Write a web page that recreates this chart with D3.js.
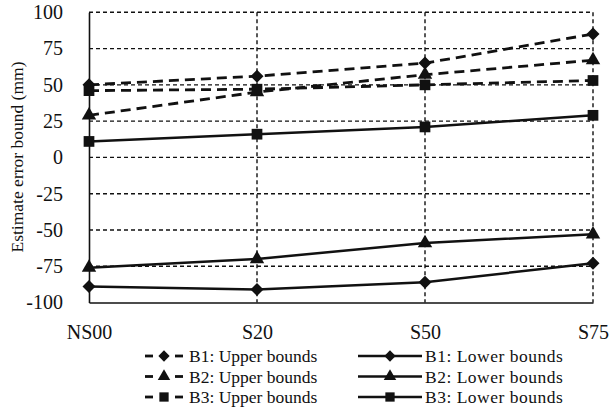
<!DOCTYPE html>
<html><head><meta charset="utf-8">
<script src="https://cdn.jsdelivr.net/npm/d3@7"></script>
<style>body{margin:0;background:#fff}svg{display:block}text{font-family:"Liberation Serif","Times New Roman",Times,serif !important;fill:#111}</style>
</head><body><svg id="c" width="611" height="419"></svg>
<script>
const categories = ["NS00","S20","S50","S75"];
const yTicks = [-100,-75,-50,-25,0,25,50,75,100];
const b1Upper = [50,56,65,85];
const b2Upper = [29,45,57,67];
const b3Upper = [46,47,50,53];
const b1Lower = [-89,-91,-86,-73];
const b2Lower = [-76,-70,-59,-53];
const b3Lower = [11,16,21,29];
const seriesNames = ["B1: Upper bounds","B2: Upper bounds","B3: Upper bounds","B1: Lower bounds","B2: Lower bounds","B3: Lower bounds"];

const diamond = {draw(ctx,size){const r=Math.sqrt(size/2);ctx.moveTo(0,-r);ctx.lineTo(r,0);ctx.lineTo(0,r);ctx.lineTo(-r,0);ctx.closePath();}};
const series = [
  {name:seriesNames[0], values:b1Upper, dashed:true, sym:diamond},
  {name:seriesNames[1], values:b2Upper, dashed:true, sym:d3.symbolTriangle},
  {name:seriesNames[2], values:b3Upper, dashed:true, sym:d3.symbolSquare},
  {name:seriesNames[3], values:b1Lower, dashed:false, sym:diamond},
  {name:seriesNames[4], values:b2Lower, dashed:false, sym:d3.symbolTriangle},
  {name:seriesNames[5], values:b3Lower, dashed:false, sym:d3.symbolSquare}
];
const symSize = s => s===diamond ? 85 : s===d3.symbolTriangle ? 90 : 115;

const svg = d3.select("#c");
const x = d3.scalePoint().domain(categories).range([89,593]);
const y = d3.scaleLinear().domain([-100,100]).range([302.5,12.3]);

// grid
const g = svg.append("g");
g.selectAll(".hg").data(yTicks.filter(t=>t>-100)).join("line")
  .attr("x1",89).attr("x2",593).attr("y1",d=>y(d)).attr("y2",d=>y(d))
  .attr("stroke","#111").attr("stroke-width",1.4).attr("stroke-dasharray","4,3");
g.selectAll(".vg").data(categories.slice(1)).join("line")
  .attr("x1",d=>x(d)).attr("x2",d=>x(d)).attr("y1",y(100)).attr("y2",y(-100))
  .attr("stroke","#111").attr("stroke-width",1.4).attr("stroke-dasharray","4,3");

// axes
const yAxis = d3.axisLeft(y).tickValues(yTicks).tickSize(0).tickPadding(26).tickFormat(d=>String(d));
const ya = svg.append("g").attr("transform","translate(89,0)").call(yAxis);
ya.select(".domain").attr("stroke","#111").attr("stroke-width",1.6);
ya.selectAll("text").style("font-size","20px").attr("fill","#111");
const xAxis = d3.axisBottom(x).tickSize(0).tickPadding(22);
const xa = svg.append("g").attr("transform","translate(0,302.5)").call(xAxis);
xa.select(".domain").attr("stroke","#111").attr("stroke-width",1.6);
xa.selectAll("text").style("font-size","20px").attr("fill","#111");

svg.append("text").attr("transform","translate(23,157) rotate(-90)").attr("text-anchor","middle")
  .style("font-size","17.5px").text("Estimate error bound (mm)");

// lines
const line = d3.line().x((d,i)=>x(categories[i])).y(d=>y(d));
series.forEach(s=>{
  svg.append("path").datum(s.values).attr("d",line).attr("fill","none")
    .attr("stroke","#111").attr("stroke-width",s.dashed?2.8:2.5)
    .attr("stroke-dasharray",s.dashed?"10,6":null);
  svg.selectAll(null).data(s.values).join("path")
    .attr("transform",(d,i)=>`translate(${x(categories[i])},${y(d)})`)
    .attr("d",d3.symbol().type(s.sym).size(symSize(s.sym))).attr("fill","#111");
});

// legend
const legRows = [356,376.5,397];
series.forEach((s,i)=>{
  const row = i%3;
  const ly = legRows[row];
  const lg = svg.append("g");
  if(s.dashed){
    const mx = 164;
    lg.append("line").attr("x1",mx-19).attr("x2",mx-11).attr("y1",ly).attr("y2",ly).attr("stroke","#111").attr("stroke-width",2.8);
    lg.append("line").attr("x1",mx+11).attr("x2",mx+19).attr("y1",ly).attr("y2",ly).attr("stroke","#111").attr("stroke-width",2.8);
    lg.append("path").attr("transform",`translate(${mx},${ly})`).attr("d",d3.symbol().type(s.sym).size(symSize(s.sym)*0.75)).attr("fill","#111");
    lg.append("text").attr("x",mx+25).attr("y",ly+6).style("font-size","17.5px").text(s.name);
  } else {
    const mx = 390;
    lg.append("line").attr("x1",mx-32).attr("x2",mx+32).attr("y1",ly).attr("y2",ly).attr("stroke","#111").attr("stroke-width",2.5);
    lg.append("path").attr("transform",`translate(${mx},${ly})`).attr("d",d3.symbol().type(s.sym).size(symSize(s.sym)*0.75)).attr("fill","#111");
    lg.append("text").attr("x",mx+35).attr("y",ly+6).style("font-size","17.5px").style("letter-spacing","0.5px").text(s.name);
  }
});
</script></body></html>
